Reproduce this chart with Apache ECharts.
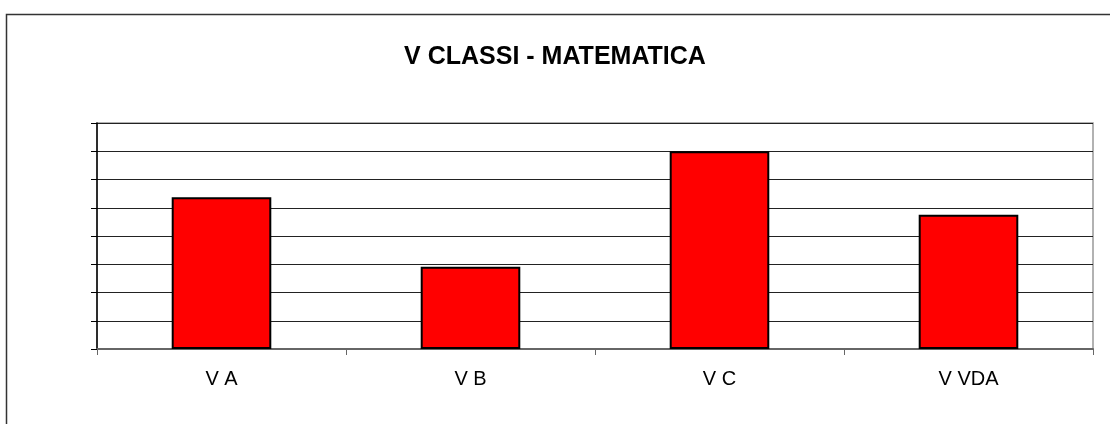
<!DOCTYPE html>
<html>
<head>
    <meta charset="utf-8">
    <title>V CLASSI - MATEMATICA</title>
    <script src="https://cdn.jsdelivr.net/npm/echarts@6/dist/echarts.min.js"></script>
    <style>
        html, body { margin: 0; padding: 0; background: #fff; }
        #chart { width: 1110px; height: 424px; }
    </style>
</head>
<body>
<div id="chart"></div>
<script>
    // dati
    var classi = ['V A', 'V B', 'V C', 'V VDA'];
    var valori = [5.37, 2.91, 7.0, 4.75];
    var titolo = 'V CLASSI - MATEMATICA';

    var chart = echarts.init(document.getElementById('chart'));
    var font = "'Liberation Sans', Arial, sans-serif";

    var option = {
        backgroundColor: '#fff',
        animation: false,
        title: {
            text: titolo,
            left: 'center',
            top: 40,
            textStyle: { fontFamily: font, fontSize: 25, fontWeight: 'bold', color: '#000' }
        },
        graphic: [{
            type: 'rect',
            shape: { x: 6.5, y: 14.5, width: 1200, height: 600 },
            style: { fill: null, stroke: '#333', lineWidth: 1.5 },
            z: -1
        }],
        grid: {
            left: 97, top: 123, right: 17, bottom: 75,
            show: true, borderColor: '#999', borderWidth: 1.5
        },
        xAxis: {
            type: 'category',
            data: classi,
            axisLine: { lineStyle: { color: '#666', width: 2 } },
            axisTick: { show: true, length: 6, lineStyle: { color: '#666' } },
            axisLabel: { fontFamily: font, fontSize: 20, color: '#000', margin: 20 }
        },
        yAxis: {
            type: 'value',
            min: 0, max: 8, interval: 1,
            axisLine: { show: true, lineStyle: { color: '#000', width: 1.5 } },
            axisTick: { show: true, length: 6, lineStyle: { color: '#000' } },
            axisLabel: { show: false },
            splitLine: { lineStyle: { color: '#222', width: 1 } }
        },
        series: [{
            type: 'bar',
            data: valori,
            barCategoryGap: '60%',
            itemStyle: { color: '#ff0000', borderColor: '#000', borderWidth: 2 }
        }]
    };

    chart.setOption(option);
</script>
</body>
</html>
